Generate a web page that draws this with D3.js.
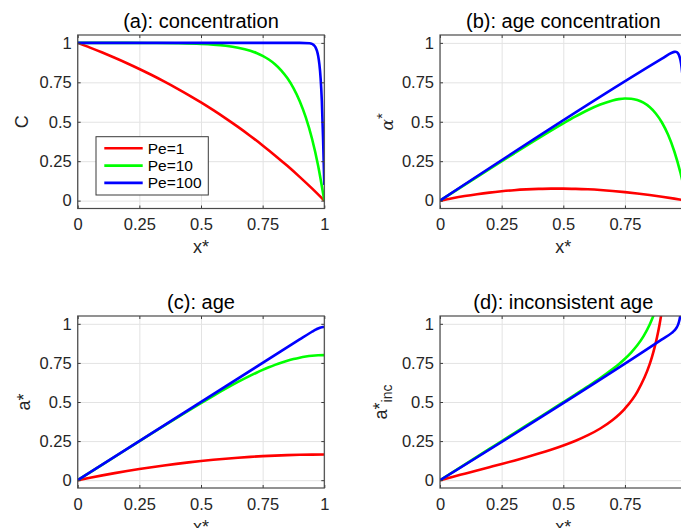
<!DOCTYPE html>
<html><head><meta charset="utf-8">
<script src="https://cdn.jsdelivr.net/npm/d3@7"></script>
<style>html,body{margin:0;padding:0;background:#fff;overflow:hidden}</style>
</head><body><svg id="chart" width="681" height="528"></svg>
<script>
// ---------- data ----------
const tickValues = [0, 0.25, 0.5, 0.75, 1];
const tickLabels = ["0", "0.25", "0.5", "0.75", "1"];
const seriesNames = ["Pe=1", "Pe=10", "Pe=100"];
const seriesColors = ["#ff0000", "#00ff00", "#0000ff"];
const panelTitles = ["(a): concentration", "(b): age concentration", "(c): age", "(d): inconsistent age"];

// Pe=1 (red)
const xRed = [0,0.05,0.1,0.15,0.2,0.25,0.3,0.35,0.4,0.45,0.5,0.55,0.6,0.65,0.7,0.75,0.8,0.85,0.9,0.95,1];
const concRed = [1,0.9702,0.9388,0.9058,0.8712,0.8347,0.7964,0.7561,0.7138,0.6693,0.6225,0.5733,0.5215,0.4672,0.4100,0.3499,0.2868,0.2204,0.1505,0.0772,0];
const ageConcRed = [0,0.0153,0.0289,0.0407,0.0509,0.0593,0.0661,0.0711,0.0745,0.0762,0.0762,0.0747,0.0716,0.0671,0.0611,0.0537,0.0451,0.0353,0.0244,0.0126,0];
const ageRed = [0,0.0158,0.0307,0.0450,0.0584,0.0711,0.0830,0.0940,0.1043,0.1138,0.1225,0.1303,0.1374,0.1436,0.1490,0.1536,0.1573,0.1602,0.1625,0.1637,0.1640];
const xRedInc = [0,0.05,0.1,0.15,0.2,0.25,0.3,0.35,0.4,0.45,0.5,0.55,0.6,0.65,0.7,0.75,0.8,0.85,0.86,0.87,0.88,0.89,0.895,0.9];
const incAgeRed = [0,0.0208,0.0414,0.0620,0.0827,0.1035,0.1249,0.1469,0.1701,0.1948,0.2219,0.2524,0.2878,0.3306,0.3849,0.4581,0.5651,0.7403,0.7900,0.8473,0.9141,0.9929,1.0379,1.0874];

// Pe=10 (green)
const xGreen = [0,0.1,0.2,0.3,0.4,0.5,0.55,0.6,0.65,0.7,0.725,0.75,0.775,0.8,0.825,0.85,0.875,0.9,0.925,0.95,0.975,1];
const concGreen = [1,1,1,0.9991,0.9975,0.9933,0.9889,0.9817,0.9698,0.9502,0.9361,0.9179,0.8946,0.8647,0.8262,0.7769,0.7135,0.6321,0.5276,0.3935,0.2212,0];
const ageConcGreen = [0,0.0999,0.1994,0.2985,0.3960,0.4899,0.5339,0.5744,0.6092,0.6353,0.6435,0.6474,0.6459,0.6376,0.6208,0.5934,0.5527,0.4953,0.4172,0.3131,0.1767,0];
const ageGreen = [0,0.0999,0.1995,0.2988,0.3970,0.4932,0.5399,0.5851,0.6282,0.6686,0.6874,0.7053,0.7220,0.7374,0.7514,0.7638,0.7746,0.7836,0.7907,0.7959,0.7990,0.8];
const xGreenInc = [0,0.1,0.2,0.3,0.4,0.5,0.55,0.6,0.65,0.7,0.725,0.75,0.775,0.8,0.825,0.85,0.86,0.87];
const incAgeGreen = [0,0.1,0.2,0.2999,0.3990,0.4986,0.5489,0.6000,0.6531,0.7105,0.7421,0.7768,0.8162,0.8626,0.9197,0.9936,1.0302,1.0723];

// Pe=100 (blue)
const xBlue = [0,0.9,0.94,0.95,0.955,0.96,0.965,0.97,0.975,0.98,0.985,0.99,0.995,1];
const concBlue = [1,1,0.9975,0.9933,0.9889,0.9817,0.9698,0.9502,0.9179,0.8647,0.7769,0.6321,0.3935,0.1];
const ageConcBlue = [0,0.9,0.9374,0.9429,0.9434,0.9410,0.9338,0.9187,0.8909,0.8420,0.7585,0.6184,0.3854,0];
const ageBlue = [0,0.9,0.9397,0.9493,0.9540,0.9585,0.9628,0.9669,0.9705,0.9737,0.9764,0.9784,0.9796,0.98];
const xBlueInc = [0,0.9,0.94,0.95,0.955,0.96,0.965,0.97,0.975,0.98];
const incAgeBlue = [0,0.9,0.9421,0.9560,0.9650,0.9768,0.9933,1.0182,1.0582,1.1271];

// ---------- layout ----------
const FONT = "'Liberation Sans', Arial, Helvetica, sans-serif";
const TXT = "#262626";
const VIEW_W = 681;
const svg = d3.select("#chart");
const cols = [[77.7, 324.3], [440, 686.6]];
const rows = [[35, 208.5], [316, 488]];

function zip(xs, ys) { return xs.map((x, i) => [x, ys[i]]); }

const panels = [
  { title: panelTitles[0], col: 0, row: 0, series: [zip(xRed, concRed), zip(xGreen, concGreen), zip(xBlue, concBlue)] },
  { title: panelTitles[1], col: 1, row: 0, series: [zip(xRed, ageConcRed), zip(xGreen, ageConcGreen), zip(xBlue, ageConcBlue)] },
  { title: panelTitles[2], col: 0, row: 1, series: [zip(xRed, ageRed), zip(xGreen, ageGreen), zip(xBlue, ageBlue)] },
  { title: panelTitles[3], col: 1, row: 1, series: [zip(xRedInc, incAgeRed), zip(xGreenInc, incAgeGreen), zip(xBlueInc, incAgeBlue)] }
];

panels.forEach((p, pi) => {
  const [x0, x1] = cols[p.col], [y0, y1] = rows[p.row];
  const x = d3.scaleLinear().domain([0, 1]).range([x0, x1]);
  const y = d3.scaleLinear().domain([-0.05, 1.05]).range([y1, y0]);
  const g = svg.append("g");

  // grid
  g.append("g").attr("transform", `translate(0,${y1})`)
    .call(d3.axisBottom(x).tickValues(tickValues).tickSize(-(y1 - y0)).tickFormat(""))
    .call(s => { s.select(".domain").remove(); s.selectAll("line").attr("stroke", "#e3e3e3"); });
  g.append("g").attr("transform", `translate(${x0},0)`)
    .call(d3.axisLeft(y).tickValues(tickValues).tickSize(-(x1 - x0)).tickFormat(""))
    .call(s => { s.select(".domain").remove(); s.selectAll("line").attr("stroke", "#e3e3e3"); });

  // clip
  const cid = "clip" + pi;
  g.append("clipPath").attr("id", cid).append("rect")
    .attr("x", x0).attr("y", y0).attr("width", x1 - x0).attr("height", y1 - y0);

  const line = d3.line().x(d => x(d[0])).y(d => y(d[1])).curve(d3.curveMonotoneX);
  const lg = g.append("g").attr("clip-path", `url(#${cid})`);
  p.series.forEach((s, si) => {
    lg.append("path").datum(s).attr("d", line).attr("fill", "none")
      .attr("stroke", seriesColors[si]).attr("stroke-width", 2.6)
      .attr("stroke-linejoin", "round").attr("stroke-linecap", "butt");
  });

  // axes with inward ticks
  const styleAxis = s => {
    s.select(".domain").remove();
    s.selectAll("line").attr("stroke", "#3a3a3a");
    s.selectAll("text").attr("fill", TXT).style("font-family", FONT).style("font-size", "16.5px");
  };
  // labels whose tick lies outside the visible window are not drawn (they are off-screen in the original)
  const xFmt = (d, i) => (x(d) + 4 > VIEW_W ? "" : tickLabels[i]);
  g.append("g").attr("transform", `translate(0,${y1})`)
    .call(d3.axisBottom(x).tickValues(tickValues).tickFormat(xFmt).tickSizeInner(-3).tickSizeOuter(0).tickPadding(9.8))
    .call(styleAxis);
  g.append("g").attr("transform", `translate(0,${y0})`)
    .call(d3.axisTop(x).tickValues(tickValues).tickFormat("").tickSizeInner(-3).tickSizeOuter(0))
    .call(styleAxis);
  g.append("g").attr("transform", `translate(${x0},0)`)
    .call(d3.axisLeft(y).tickValues(tickValues).tickFormat((d, i) => tickLabels[i]).tickSizeInner(-3).tickSizeOuter(0).tickPadding(6))
    .call(styleAxis);
  g.append("g").attr("transform", `translate(${x1},0)`)
    .call(d3.axisRight(y).tickValues(tickValues).tickFormat("").tickSizeInner(-3).tickSizeOuter(0))
    .call(styleAxis);

  g.append("rect").attr("x", x0).attr("y", y0).attr("width", x1 - x0).attr("height", y1 - y0)
    .attr("fill", "none").attr("stroke", "#4a4a4a").attr("stroke-width", 1.2);

  // title
  g.append("text").attr("x", (x0 + x1) / 2).attr("y", y0 - 7.5)
    .attr("text-anchor", "middle").attr("fill", "#000")
    .style("font-family", FONT).style("font-size", "20px").text(p.title);

  // x label
  const xl = g.append("text").attr("x", (x0 + x1) / 2).attr("y", y1 + 44.5)
    .attr("text-anchor", "middle").attr("fill", TXT)
    .style("font-family", FONT).style("font-size", "18px");
  xl.append("tspan").text("x");
  xl.append("tspan").text("*");

  // y label
  const yc = (y0 + y1) / 2;
  const yl = g.append("text").attr("text-anchor", "middle").attr("fill", TXT)
    .style("font-family", FONT).style("font-size", "18px");
  if (pi === 0) {
    yl.attr("transform", `translate(28,${yc}) rotate(-90)`).text("C");
  } else if (pi === 1) {
    yl.attr("transform", `translate(393,${yc}) rotate(-90)`);
    yl.append("tspan").text("α").style("font-family", "'DejaVu Serif', serif").style("font-style", "italic").style("font-size", "17px");
    yl.append("tspan").text("*").attr("dy", "-6").style("font-size", "15px");
  } else if (pi === 2) {
    yl.attr("transform", `translate(30,${yc}) rotate(-90)`);
    yl.append("tspan").text("a");
    yl.append("tspan").text("*").style("font-size", "18px");
  } else {
    yl.attr("transform", `translate(387,${yc}) rotate(-90)`);
    yl.append("tspan").text("a");
    yl.append("tspan").text("*").attr("dy", "-1").style("font-size", "18px");
    yl.append("tspan").text("inc").attr("dy", "6").style("font-size", "14px");
  }

  // legend in panel (a)
  if (pi === 0) {
    const lgX = 96, lgY = 136.7, lgW = 112.3, lgH = 58.3;
    const leg = g.append("g");
    leg.append("rect").attr("x", lgX).attr("y", lgY).attr("width", lgW).attr("height", lgH)
      .attr("fill", "#fff").attr("stroke", "#3a3a3a").attr("stroke-width", 1);
    seriesNames.forEach((n, i) => {
      const ry = lgY + 11.6 + i * 17.3;
      leg.append("line").attr("x1", lgX + 8.3).attr("x2", lgX + 46.7).attr("y1", ry).attr("y2", ry)
        .attr("stroke", seriesColors[i]).attr("stroke-width", 2.6);
      leg.append("text").attr("x", lgX + 51.7).attr("y", ry).attr("dy", "0.35em")
        .attr("fill", "#000").style("font-family", FONT).style("font-size", "15.5px").text(n);
    });
  }
});
</script></body></html>
